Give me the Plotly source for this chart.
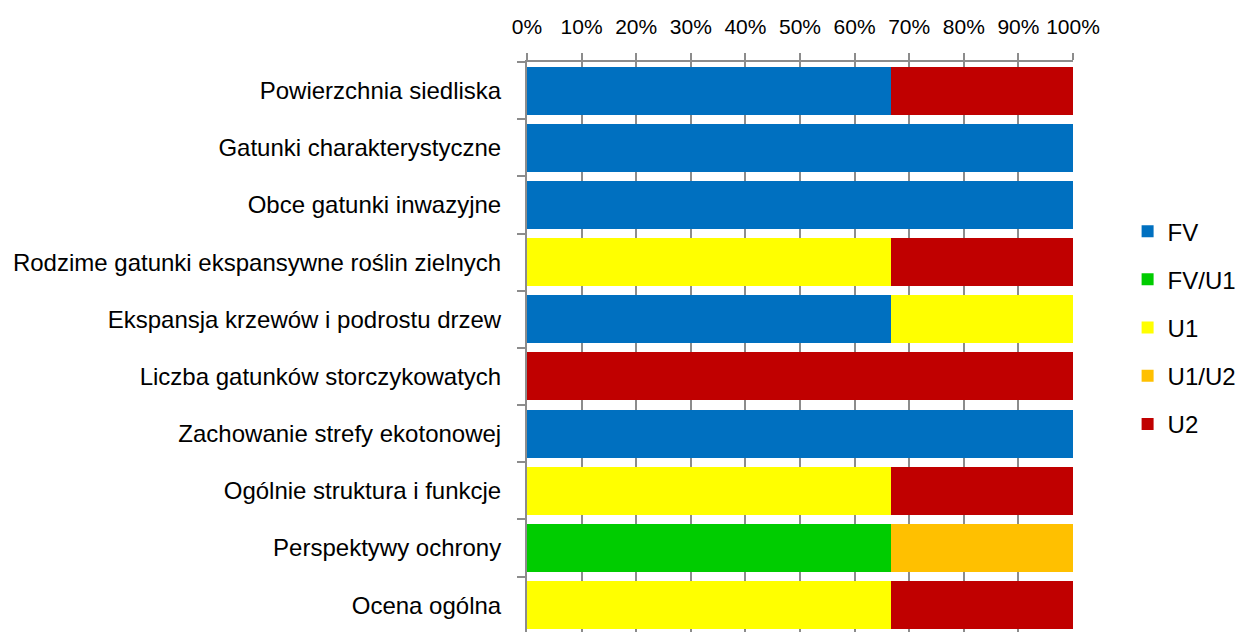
import plotly.graph_objects as go

categories = [
    "Powierzchnia siedliska",
    "Gatunki charakterystyczne",
    "Obce gatunki inwazyjne",
    "Rodzime gatunki ekspansywne roślin zielnych",
    "Ekspansja krzewów i podrostu drzew",
    "Liczba gatunków storczykowatych",
    "Zachowanie strefy ekotonowej",
    "Ogólnie struktura i funkcje",
    "Perspektywy ochrony",
    "Ocena ogólna",
]

# number of sites (out of 3) in each assessment class
fv = [2, 3, 3, 0, 2, 0, 3, 0, 0, 0]
fv_u1 = [0, 0, 0, 0, 0, 0, 0, 0, 2, 0]
u1 = [0, 0, 0, 2, 1, 0, 0, 2, 0, 2]
u1_u2 = [0, 0, 0, 0, 0, 0, 0, 0, 1, 0]
u2 = [1, 0, 0, 1, 0, 3, 0, 1, 0, 1]

series_names = ["FV", "FV/U1", "U1", "U1/U2", "U2"]
series_values = [fv, fv_u1, u1, u1_u2, u2]
series_colors = ["#0070C0", "#00CC00", "#FFFF00", "#FFC000", "#C00000"]

x_ticks = list(range(0, 101, 10))
x_tick_labels = [f"{v}%" for v in x_ticks]

FONT = "Liberation Sans, Arial, sans-serif"

fig = go.Figure()
for name, vals, col in zip(series_names, series_values, series_colors):
    fig.add_trace(go.Bar(
        y=categories, x=vals, name=name, orientation="h",
        marker=dict(color=col, line=dict(width=0)),
        legendgroup=name,
    ))

fig.update_layout(
    width=1239, height=632,
    barmode="stack", barnorm="percent", bargap=0.16,
    plot_bgcolor="white", paper_bgcolor="white",
    margin=dict(l=527, r=166, t=62, b=0, autoexpand=False),
    font=dict(family=FONT, size=24, color="#000000"),
    showlegend=True,
    legend=dict(
        x=1.10, xanchor="left", y=0.742, yanchor="top",
        traceorder="grouped", tracegroupgap=14,
        font=dict(size=24), bgcolor="rgba(0,0,0,0)",
    ),
    xaxis=dict(
        side="top", range=[0, 100], tickmode="array",
        tickvals=x_ticks, ticktext=x_tick_labels,
        showgrid=True, gridcolor="#8C8C8C", gridwidth=1.5,
        showline=True, linecolor="#8C8C8C", linewidth=2,
        ticks="outside", ticklen=7, tickcolor="#8C8C8C", tickwidth=1.5,
        ticklabelstandoff=11, zeroline=False, automargin=False,
        tickfont=dict(size=21),
    ),
    yaxis=dict(
        categoryorder="array", categoryarray=categories,
        range=[9.47, -0.5],
        showline=True, linecolor="#8C8C8C", linewidth=2,
        ticks="outside", ticklen=8, tickcolor="#8C8C8C", tickwidth=1.5,
        tickson="boundaries", showgrid=False, automargin=False,
        ticklabelstandoff=19,
        tickfont=dict(size=24),
    ),
)

fig.write_html(
    "out.html",
    config={"displayModeBar": False},
    post_script="document.body.style.margin='0';document.body.style.overflow='hidden';",
)
